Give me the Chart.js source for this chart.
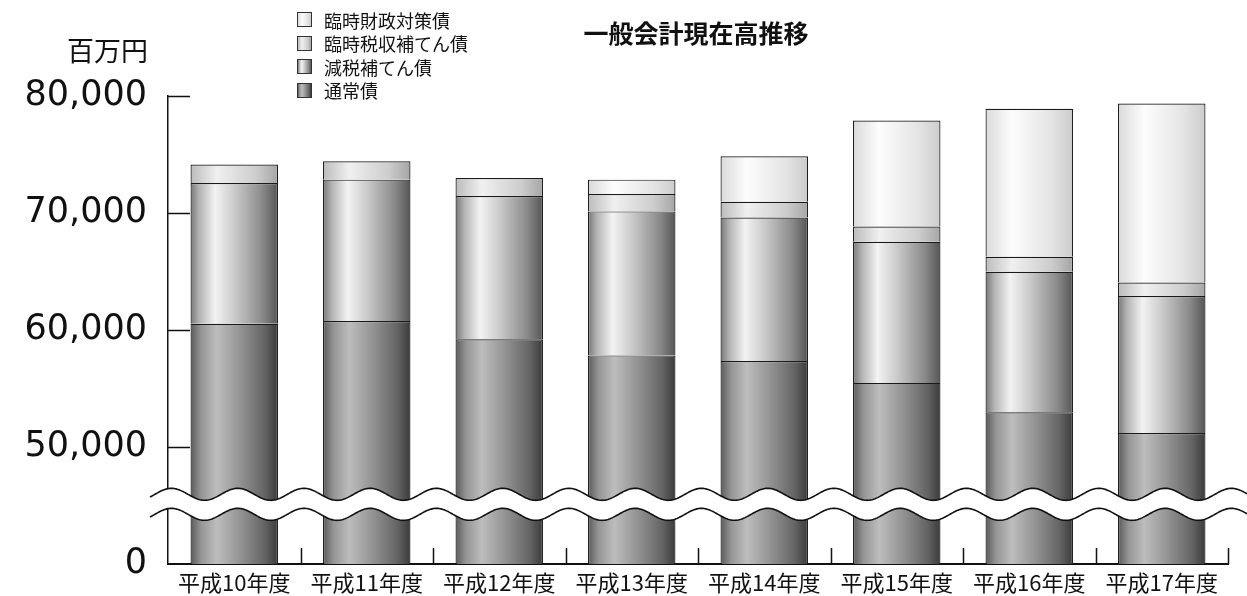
<!DOCTYPE html>
<html lang="ja">
<head>
<meta charset="utf-8">
<title>一般会計現在高推移</title>
<script src="https://cdn.jsdelivr.net/npm/chart.js@4.4.1/dist/chart.umd.min.js"></script>
<style>
  html, body { margin: 0; padding: 0; background: #fff; }
  #wrap { position: relative; width: 1247px; height: 596px; font-family: "Noto Sans CJK JP", sans-serif; color: #111; }
  #chart { position: absolute; left: 0; top: 0; }
  #title { position: absolute; left: 566px; top: 14px; width: 260px; text-align: center; font-size: 25px; font-weight: bold; line-height: 36px; }
  #unit { position: absolute; right: 1099px; top: 33px; font-size: 27px; line-height: 34px; white-space: nowrap; }
  #legend { position: absolute; left: 297px; top: 8px; }
  .row { display: flex; align-items: center; height: 23.5px; }
  .box { width: 13px; height: 13px; border: 1px solid #333; margin-right: 12px; }
  .row span { font-size: 18px; line-height: 20px; white-space: nowrap; }
</style>
</head>
<body>
<div id="wrap">
  <canvas id="chart" width="1247" height="596"></canvas>
  <div id="title">一般会計現在高推移</div>
  <div id="unit">百万円</div>
  <div id="legend"></div>
</div>
<script>
// 百万円
const years = ["平成10年度", "平成11年度", "平成12年度", "平成13年度", "平成14年度", "平成15年度", "平成16年度", "平成17年度"];
const tsujosai = [60540, 60770, 59200, 57830, 57340, 55480, 52970, 51200];      // 通常債
const genzeiHoten = [12030, 12080, 12250, 12305, 12280, 12060, 12000, 11710];   // 減税補てん債
const rinjiZeishu = [1570, 1570, 1545, 1490, 1345, 1310, 1285, 1140];           // 臨時税収補てん債
const rinjiZaisei = [null, null, null, 1225, 3880, 9055, 12660, 15310];         // 臨時財政対策債

// axis is broken between 0 and 50,000: that part takes the height of one 10,000 step
const HIDDEN = 40000;
const yTicks = [0, 50000, 60000, 70000, 80000];

const BAR_PCT = 0.66;

const fills = {
    tsujo: [[0, "#5a5a5a"], [0.12, "#959595"], [0.3, "#bdbdbd"], [0.55, "#969696"], [0.85, "#646464"], [1, "#3a3a3a"]],
    genzei: [[0, "#777777"], [0.1, "#b3b3b3"], [0.28, "#f3f3f3"], [0.5, "#cbcbcb"], [0.82, "#8a8a8a"], [1, "#555555"]],
    zeishu: [[0, "#bbbbbb"], [0.3, "#f0f0f0"], [0.75, "#cdcdcd"], [1, "#a5a5a5"]],
    zaisei: [[0, "#dadada"], [0.3, "#fdfdfd"], [0.75, "#e4e4e4"], [1, "#cccccc"]]
};

function barFill(stops) {
    return (c) => {
        const chart = c.chart;
        const area = chart.chartArea;
        if (!area || c.dataIndex === undefined) return stops[2][1];
        const half = (area.right - area.left) / years.length * BAR_PCT / 2;
        const cx = chart.scales.x.getPixelForValue(c.dataIndex);
        const g = chart.ctx.createLinearGradient(cx - half, 0, cx + half, 0);
        stops.forEach(([p, col]) => g.addColorStop(p, col));
        return g;
    };
}

function cssFill(stops) {
    return "linear-gradient(to right, " + stops.map(([p, col]) => `${col} ${p * 100}%`).join(", ") + ")";
}

const series = [
    { label: "通常債", data: tsujosai.map(v => v - HIDDEN), stops: fills.tsujo },
    { label: "減税補てん債", data: genzeiHoten, stops: fills.genzei },
    { label: "臨時税収補てん債", data: rinjiZeishu, stops: fills.zeishu },
    { label: "臨時財政対策債", data: rinjiZaisei, stops: fills.zaisei }
];

// small inward ticks on both axes
const innerTicks = {
    id: "innerTicks",
    afterDatasetsDraw(chart) {
        const { ctx, chartArea: a, scales: { x, y } } = chart;
        ctx.save();
        ctx.strokeStyle = "#111";
        ctx.lineWidth = 1.5;
        ctx.beginPath();
        y.ticks.forEach(t => {
            if (t.value === 0) return;
            const py = Math.round(y.getPixelForValue(t.value)) + 0.5;
            ctx.moveTo(a.left, py);
            ctx.lineTo(a.left + 22, py);
        });
        for (let i = 1; i <= years.length; i++) {
            const px = i < years.length
                ? (x.getPixelForValue(i - 1) + x.getPixelForValue(i)) / 2
                : a.right;
            ctx.moveTo(Math.round(px) + 0.5, a.bottom);
            ctx.lineTo(Math.round(px) + 0.5, a.bottom - 16);
        }
        ctx.stroke();
        ctx.restore();
    }
};

// wavy break band across the lower part of the chart
const axisBreak = {
    id: "axisBreak",
    afterDraw(chart) {
        const { ctx, chartArea: a, scales: { y } } = chart;
        const mid = y.getPixelForValue(5100);
        const top = mid - 10, bot = mid + 10;
        const period = (a.right - a.left) / years.length / 2;
        const x0 = a.left - 18, x1 = chart.width;
        const wave = (px, base) => base + 6 * Math.sin((px - a.left - 20) / period * 2 * Math.PI);
        ctx.save();
        ctx.beginPath();
        for (let px = x0; px <= x1; px++) ctx.lineTo(px, wave(px, top));
        for (let px = x1; px >= x0; px--) ctx.lineTo(px, wave(px, bot));
        ctx.closePath();
        ctx.fillStyle = "#fff";
        ctx.fill();
        ctx.strokeStyle = "#111";
        ctx.lineWidth = 1.6;
        [top, bot].forEach(base => {
            ctx.beginPath();
            for (let px = x0; px <= x1; px++) ctx.lineTo(px, wave(px, base));
            ctx.stroke();
        });
        ctx.restore();
    }
};

const chart = new Chart(document.getElementById("chart"), {
    type: "bar",
    data: {
        labels: years,
        datasets: series.map(s => ({
            label: s.label,
            data: s.data,
            backgroundColor: barFill(s.stops),
            borderColor: "#1a1a1a",
            borderWidth: 1.2,
            barPercentage: BAR_PCT,
            categoryPercentage: 1.0
        }))
    },
    options: {
        responsive: false,
        animation: false,
        layout: { padding: { top: 96, right: 19, bottom: 0, left: 0 } },
        plugins: {
            legend: { display: false },
            tooltip: { enabled: false }
        },
        scales: {
            x: {
                stacked: true,
                grid: { display: false, drawTicks: false },
                border: { display: true, color: "#111", width: 2 },
                ticks: {
                    color: "#111",
                    padding: 5,
                    font: { family: "'Noto Sans CJK JP', sans-serif", size: 22 }
                },
                afterFit(scale) { scale.height = 32; }
            },
            y: {
                stacked: true,
                min: 0,
                max: 80000 - HIDDEN,
                afterBuildTicks(scale) {
                    scale.ticks = yTicks.map(v => ({ value: v === 0 ? 0 : v - HIDDEN }));
                },
                grid: { display: false, drawTicks: false },
                border: { display: true, color: "#111", width: 1.5 },
                ticks: {
                    color: "#111",
                    padding: 21,
                    font: { family: "'DejaVu Sans', sans-serif", size: 35 },
                    callback: v => v === 0 ? "0" : (v + HIDDEN).toLocaleString("en-US")
                },
                afterFit(scale) {
                    scale.width = 168;
                    scale.paddingTop = 0;
                    scale.paddingBottom = 0;
                }
            }
        }
    },
    plugins: [innerTicks, axisBreak]
});

// legend, top row is the top of the stack
const legend = document.getElementById("legend");
series.slice().reverse().forEach(s => {
    const row = document.createElement("div");
    row.className = "row";
    const box = document.createElement("div");
    box.className = "box";
    box.style.background = cssFill(s.stops);
    const txt = document.createElement("span");
    txt.textContent = s.label;
    row.appendChild(box);
    row.appendChild(txt);
    legend.appendChild(row);
});
</script>
</body>
</html>
